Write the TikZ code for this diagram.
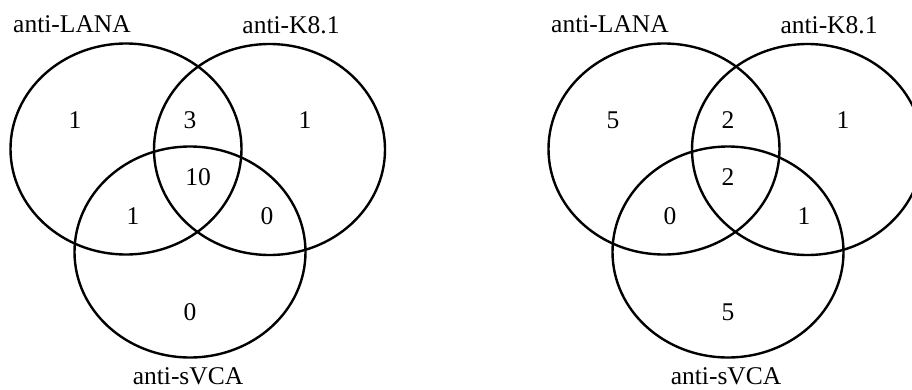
\documentclass[tikz,border=0pt]{standalone}
\usepackage{fontspec}
\setmainfont{Liberation Serif}
\usetikzlibrary{shapes.geometric}
\usetikzlibrary{positioning}

\begin{document}
\begin{tikzpicture}[x=1pt, y=-1pt, set/.style={draw,ellipse,line width=2.4pt,
	minimum width=231pt,minimum height=211pt,inner sep=0pt},
	lbl/.style={anchor=base,inner sep=0pt,font=\fontsize{25.5}{30}\selectfont}]
\useasboundingbox (0,0) rectangle (912,389);
% left diagram
\node[set] (LANA1) at (126, 149) {};
\node[set] (K81) at (269.5, 149.5) {};
\node[set] (sVCA1) at (190, 252) {};
\node[lbl] (tLANA1) at (72, 32.5) {anti-LANA};
\node[lbl] (tK81) at (291, 33.5) {anti-K8.1};
\node[lbl] (tsVCA1) at (188, 384) {anti-sVCA};
\node[lbl] (a1) at (75, 128) {1};
\node[lbl] (b1) at (190, 128) {3};
\node[lbl] (c1) at (305, 128) {1};
\node[lbl] (d1) at (198, 185) {10};
\node[lbl] (e1) at (133, 224) {1};
\node[lbl] (f1) at (267, 224) {0};
\node[lbl] (g1) at (190, 320) {0};
% right diagram
\node[set] (LANA2) at (664, 149) {};
\node[set] (K82) at (807.5, 149.5) {};
\node[set] (sVCA2) at (728, 252) {};
\node[lbl] (tLANA2) at (610, 32.5) {anti-LANA};
\node[lbl] (tK82) at (829, 33.5) {anti-K8.1};
\node[lbl] (tsVCA2) at (726, 384) {anti-sVCA};
\node[lbl] (a2) at (613, 128) {5};
\node[lbl] (b2) at (728, 128) {2};
\node[lbl] (c2) at (843, 128) {1};
\node[lbl] (d2) at (728, 185) {2};
\node[lbl] (e2) at (670, 224) {0};
\node[lbl] (f2) at (804, 224) {1};
\node[lbl] (g2) at (728, 320) {5};
\end{tikzpicture}
\end{document}
